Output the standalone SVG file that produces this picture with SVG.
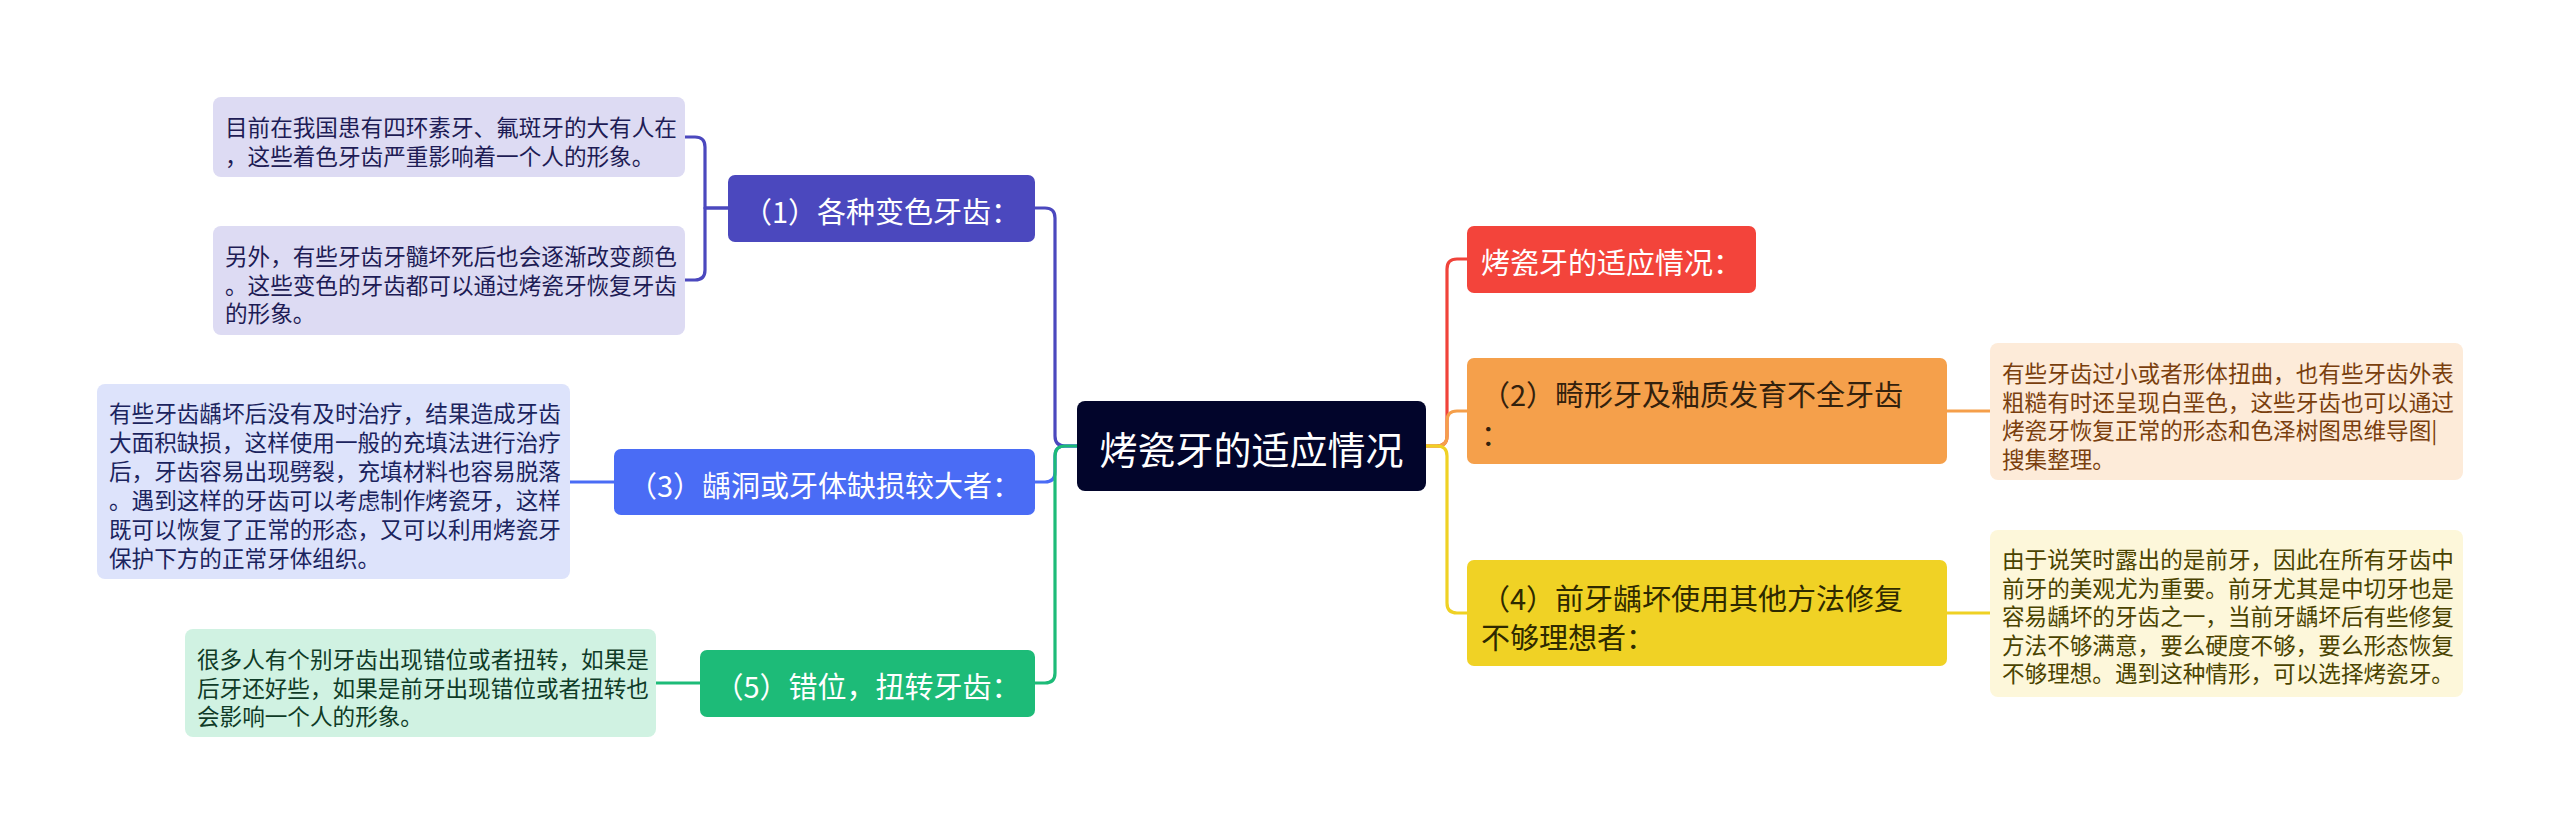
<svg xmlns="http://www.w3.org/2000/svg" width="2560" height="835" viewBox="0 0 2560 835">
<style>
text{font-family:"Noto Sans CJK SC","Noto Sans",sans-serif;dominant-baseline:central}
.root{font-size:38px;fill:#ffffff}
.br{font-size:29px}
.lf{font-size:22.6px}
.w{fill:#ffffff}
.c{fill:none;stroke-width:3.2;stroke-linecap:round;stroke-linejoin:round}
</style>
<rect width="2560" height="835" fill="#ffffff"/>
<g id="connectors">
<path class="c" stroke="#4b48be" d="M1077,446 H1065 Q1055,446 1055,436 V218 Q1055,208 1045,208 H1035"/>
<path class="c" stroke="#4a6cf5" d="M1077,446 H1065 Q1055,446 1055,456 V472 Q1055,482 1045,482 H1035"/>
<path class="c" stroke="#1dbb78" d="M1077,446 H1065 Q1055,446 1055,456 V673 Q1055,683 1045,683 H1035"/>
<path class="c" stroke="#4b48be" d="M728,208 H705 V147 Q705,137 695,137 H685"/>
<path class="c" stroke="#4b48be" d="M728,208 H705 V270 Q705,280 695,280 H685"/>
<path class="c" stroke="#4a6cf5" d="M614,482 H570"/>
<path class="c" stroke="#1dbb78" d="M700,683 H656"/>
<path class="c" stroke="#f0433a" d="M1426,446 H1437 Q1447,446 1447,436 V269 Q1447,259 1457,259 H1467"/>
<path class="c" stroke="#f59f4a" d="M1426,446 H1437 Q1447,446 1447,436 V421 Q1447,411 1457,411 H1467"/>
<path class="c" stroke="#efd124" d="M1426,446 H1437 Q1447,446 1447,456 V603 Q1447,613 1457,613 H1467"/>
<path class="c" stroke="#f59f4a" d="M1947,411 H1990"/>
<path class="c" stroke="#efd124" d="M1947,613 H1990"/>
</g>
<g id="root">
<rect x="1077" y="401" width="349" height="90" rx="8" fill="#02052b"/>
<text class="root" x="1251.5" y="447" text-anchor="middle">烤瓷牙的适应情况</text>
</g>
<g id="b1">
<rect x="728" y="175" width="307" height="67" rx="7" fill="#4b48be"/>
<text class="br w" x="881.5" y="210" text-anchor="middle">（1）各种变色牙齿：</text>
</g>
<g id="l1a">
<rect x="213" y="97" width="472" height="80" rx="8" fill="#dddbf3"/>
<text class="lf" fill="#1e1c55" x="225"><tspan y="126">目前在我国患有四环素牙、氟斑牙的大有人在</tspan><tspan x="225" y="154.5">，这些着色牙齿严重影响着一个人的形象。</tspan></text>
</g>
<g id="l1b">
<rect x="213" y="226" width="472" height="109" rx="8" fill="#dddbf3"/>
<text class="lf" fill="#1e1c55" x="225"><tspan y="255">另外，有些牙齿牙髓坏死后也会逐渐改变颜色</tspan><tspan x="225" y="283.5">。这些变色的牙齿都可以通过烤瓷牙恢复牙齿</tspan><tspan x="225" y="312">的形象。</tspan></text>
</g>
<g id="b3">
<rect x="614" y="449" width="421" height="66" rx="7" fill="#4a6cf5"/>
<text class="br w" x="824.5" y="484" text-anchor="middle">（3）龋洞或牙体缺损较大者：</text>
</g>
<g id="l3">
<rect x="97" y="384" width="473" height="195" rx="8" fill="#dde3fb"/>
<text class="lf" fill="#1b245e" x="109"><tspan y="412">有些牙齿龋坏后没有及时治疗，结果造成牙齿</tspan><tspan x="109" y="441">大面积缺损，这样使用一般的充填法进行治疗</tspan><tspan x="109" y="470">后，牙齿容易出现劈裂，充填材料也容易脱落</tspan><tspan x="109" y="499">。遇到这样的牙齿可以考虑制作烤瓷牙，这样</tspan><tspan x="109" y="528">既可以恢复了正常的形态，又可以利用烤瓷牙</tspan><tspan x="109" y="557">保护下方的正常牙体组织。</tspan></text>
</g>
<g id="b5">
<rect x="700" y="650" width="335" height="67" rx="7" fill="#1dbb78"/>
<text class="br w" x="867.5" y="685" text-anchor="middle">（5）错位，扭转牙齿：</text>
</g>
<g id="l5">
<rect x="185" y="629" width="471" height="108" rx="8" fill="#d0f2e2"/>
<text class="lf" fill="#0f3b27" x="197"><tspan y="658">很多人有个别牙齿出现错位或者扭转，如果是</tspan><tspan x="197" y="686.5">后牙还好些，如果是前牙出现错位或者扭转也</tspan><tspan x="197" y="715">会影响一个人的形象。</tspan></text>
</g>
<g id="r1">
<rect x="1467" y="226" width="289" height="67" rx="7" fill="#f3443b"/>
<text class="br w" x="1611.5" y="261" text-anchor="middle">烤瓷牙的适应情况：</text>
</g>
<g id="r2">
<rect x="1467" y="358" width="480" height="106" rx="7" fill="#f5a04b"/>
<text class="br" fill="#33210d" x="1481"><tspan y="393">（2）畸形牙及釉质发育不全牙齿</tspan><tspan x="1481" y="433">：</tspan></text>
</g>
<g id="l2">
<rect x="1990" y="343" width="473" height="137" rx="8" fill="#fdebd9"/>
<text class="lf" fill="#7a3f0e" x="2002"><tspan y="372">有些牙齿过小或者形体扭曲，也有些牙齿外表</tspan><tspan x="2002" y="400.5">粗糙有时还呈现白垩色，这些牙齿也可以通过</tspan><tspan x="2002" y="429">烤瓷牙恢复正常的形态和色泽树图思维导图|</tspan><tspan x="2002" y="457.5">搜集整理。</tspan></text>
</g>
<g id="r4">
<rect x="1467" y="560" width="480" height="106" rx="7" fill="#f0d225"/>
<text class="br" fill="#2e2900" x="1481"><tspan y="597">（4）前牙龋坏使用其他方法修复</tspan><tspan x="1481" y="636">不够理想者：</tspan></text>
</g>
<g id="l4">
<rect x="1990" y="530" width="473" height="167" rx="8" fill="#fdf7da"/>
<text class="lf" fill="#4a4300" x="2002"><tspan y="558">由于说笑时露出的是前牙，因此在所有牙齿中</tspan><tspan x="2002" y="586.5">前牙的美观尤为重要。前牙尤其是中切牙也是</tspan><tspan x="2002" y="615">容易龋坏的牙齿之一，当前牙龋坏后有些修复</tspan><tspan x="2002" y="643.5">方法不够满意，要么硬度不够，要么形态恢复</tspan><tspan x="2002" y="672">不够理想。遇到这种情形，可以选择烤瓷牙。</tspan></text>
</g>
</svg>
